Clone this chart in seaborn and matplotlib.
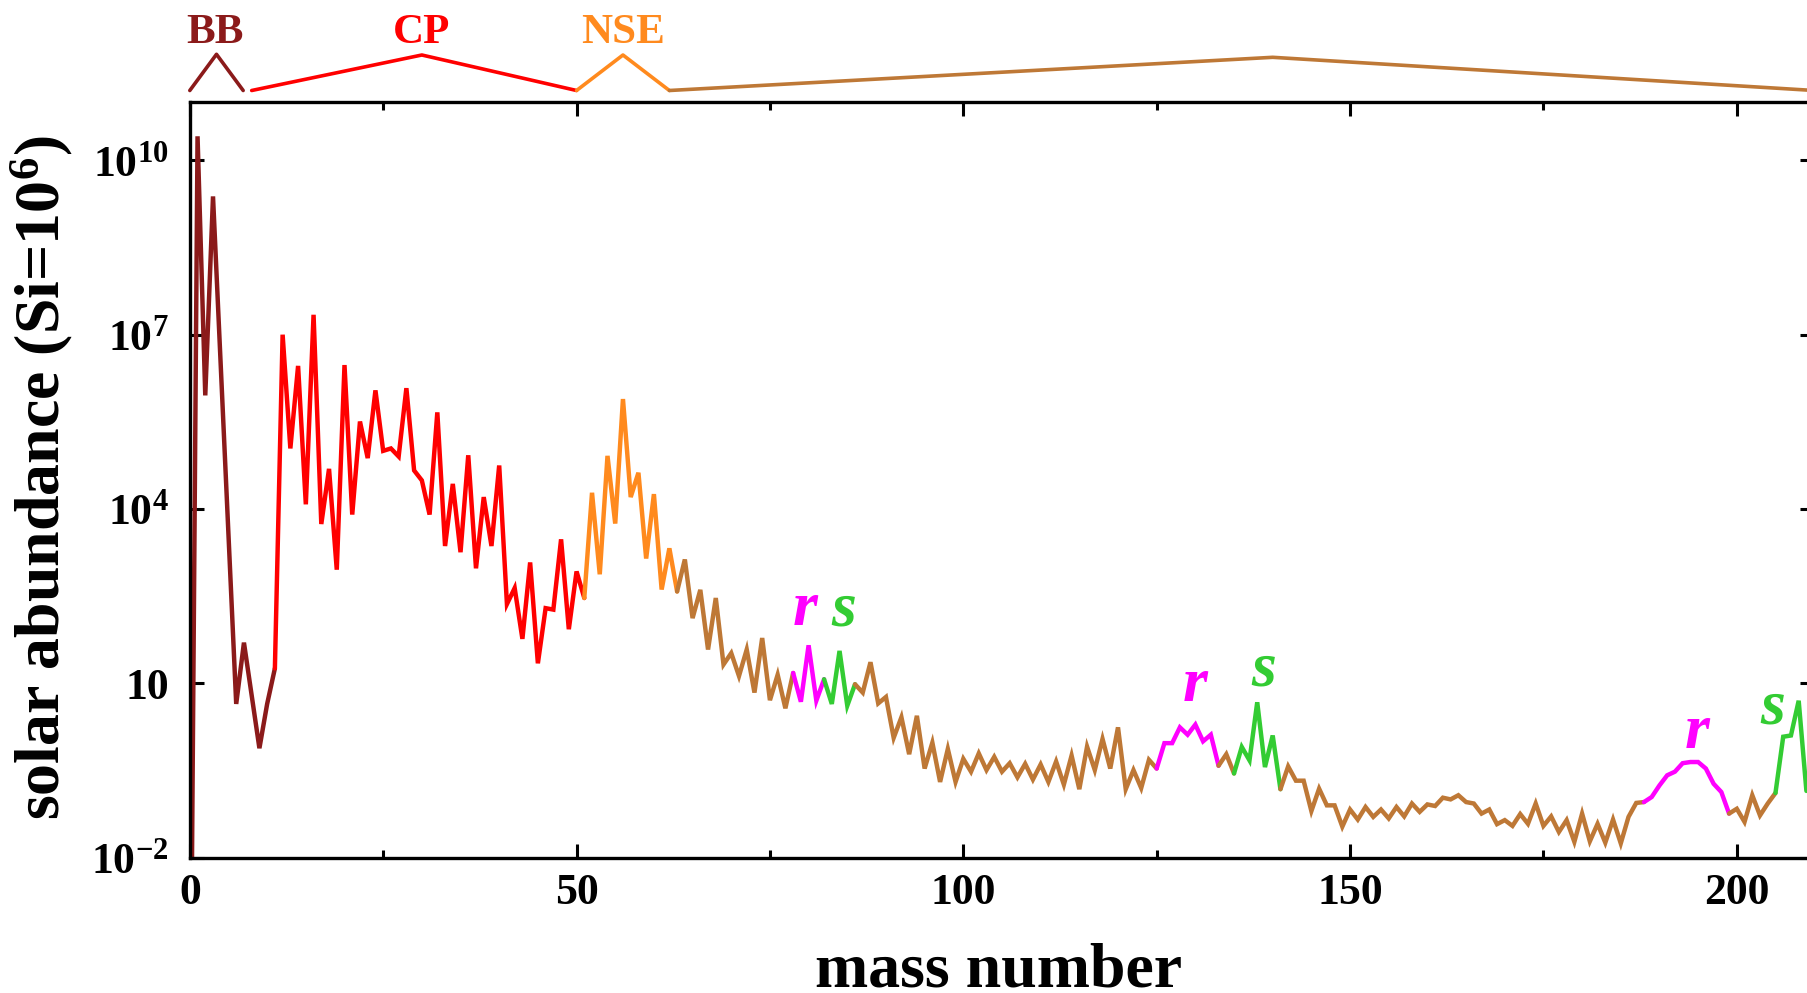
import numpy as np
import pandas as pd
import matplotlib
matplotlib.use("Agg")
import matplotlib.pyplot as plt
from matplotlib.ticker import NullLocator
import seaborn as sns

# ---------------- data ----------------
mass_number = [0, 1, 2, 3, 6, 7, 9, 10, 11] + list(range(12, 210))
abundance = [
    1e-7, 2.6e10, 9e5, 2.4e9, 4.4, 50, 0.76, 4.4, 18,
    # 12-20
    1.0e7, 1.1e5, 2.9e6, 1.2e4, 2.2e7, 5.5e3, 4.9e4, 900, 3.0e6,
    # 21-30
    8.0e3, 3.2e5, 7.5e4, 1.1e6, 1.0e5, 1.1e5, 8.0e4, 1.2e6, 4.6e4, 3.1e4,
    # 31-40
    8.0e3, 4.6e5, 2.3e3, 2.7e4, 1.8e3, 8.4e4, 950, 1.6e4, 2.3e3, 5.6e4,
    # 41-50
    230, 435, 58, 1.2e3, 22, 196, 185, 3.0e3, 85, 840,
    # 51-60
    293, 1.9e4, 750, 8.2e4, 5.6e3, 7.8e5, 1.6e4, 4.2e4, 1.4e3, 1.8e4,
    # 61-70
    410, 2.1e3, 380, 1.35e3, 132, 405, 38, 293, 21, 33,
    # 71-80
    13.3, 38, 6.9, 60, 5.1, 14, 3.7, 15, 4.8, 45,
    # 81-90
    5.0, 11.7, 4.4, 36, 4.1, 9.6, 6.9, 23, 4.5, 5.8,
    # 91-100
    1.15, 2.6, 0.6, 2.75, 0.34, 0.95, 0.2, 0.74, 0.2, 0.5,
    # 101-110
    0.3, 0.62, 0.32, 0.54, 0.3, 0.42, 0.24, 0.41, 0.22, 0.40,
    # 111-120
    0.2, 0.45, 0.18, 0.57, 0.15, 0.81, 0.32, 1.1, 0.34, 1.74,
    # 121-130
    0.15, 0.32, 0.157, 0.48, 0.34, 0.93, 0.93, 1.74, 1.3, 1.94,
    # 131-140
    1.0, 1.3, 0.38, 0.60, 0.28, 0.8, 0.47, 4.7, 0.36, 1.26,
    # 141-150
    0.15, 0.37, 0.21, 0.21, 0.063, 0.153, 0.079, 0.079, 0.034, 0.067,
    # 151-160
    0.045, 0.074, 0.05, 0.067, 0.047, 0.074, 0.051, 0.085, 0.061, 0.082,
    # 161-170
    0.077, 0.107, 0.10, 0.118, 0.09, 0.085, 0.057, 0.067, 0.0375, 0.044,
    # 171-180
    0.035, 0.056, 0.038, 0.085, 0.035, 0.051, 0.0275, 0.044, 0.0186, 0.057,
    # 181-190
    0.019, 0.038, 0.018, 0.045, 0.0175, 0.05, 0.087, 0.09, 0.11, 0.174,
    # 191-200
    0.26, 0.30, 0.42, 0.44, 0.44, 0.34, 0.186, 0.134, 0.057, 0.069,
    # 201-209
    0.041, 0.118, 0.053, 0.085, 0.129, 1.2, 1.26, 5.0, 0.14,
]

# colour segments of the abundance curve (mass-number ranges)
seg_start = [0, 11, 51, 63, 78, 82, 86, 125, 133, 135, 141, 188, 199, 205]
seg_end = [11, 51, 63, 78, 82, 86, 125, 133, 135, 141, 188, 199, 205, 209]
seg_kind = ["BB", "CP", "NSE", "heavy", "r", "s", "heavy", "r", "heavy",
            "s", "heavy", "r", "heavy", "s"]

# nucleosynthesis regions shown in the strip above the plot
region_name = ["BB", "CP", "NSE", None]
region_start = [0, 8, 50, 62]
region_peak = [3.45, 30, 56, 140]
region_end = [6.9, 50, 62, 210]
region_height = [1.02, 1.0, 1.0, 0.935]
region_kind = ["BB", "CP", "NSE", "heavy"]

# r / s process peak labels
proc_label = ["r", "s", "r", "s", "r", "s"]
proc_mass = [79.6, 84.6, 130.0, 138.8, 194.9, 204.6]
proc_base = [100, 100, 5.0, 9.0, 0.78, 2.0]

colors = {
    "BB": "#8b1a1a",
    "CP": "#ff0000",
    "NSE": "#ff8a1e",
    "heavy": "#be7836",
    "r": "#ff00ff",
    "s": "#33cc33",
}

# ---------------- style ----------------
sns.set_theme(style="ticks")
plt.rcParams["font.family"] = ["Liberation Serif", "DejaVu Serif"]
plt.rcParams["font.weight"] = "bold"
plt.rcParams["text.color"] = "black"
plt.rcParams["axes.labelcolor"] = "black"
plt.rcParams["xtick.color"] = "black"
plt.rcParams["ytick.color"] = "black"
plt.rcParams["mathtext.fontset"] = "custom"
plt.rcParams["mathtext.rm"] = "Liberation Serif:bold"
plt.rcParams["mathtext.bf"] = "Liberation Serif:bold"
plt.rcParams["mathtext.it"] = "Liberation Serif:bold:italic"
plt.rcParams["mathtext.default"] = "rm"

df = pd.DataFrame({"A": mass_number, "abund": abundance})

W, H = 1807, 993
fig = plt.figure(figsize=(W / 100, H / 100), dpi=100)

ax_l, ax_b = 189.8 / W, (H - 857.5) / H
ax_w = (7.735 * 210) / W
ax_h = (857.5 - 102.3) / H
ax = fig.add_axes([ax_l, ax_b, ax_w, ax_h])
ax.set_yscale("log")

for s, e, k in zip(seg_start, seg_end, seg_kind):
    sub = df[(df["A"] >= s) & (df["A"] <= e)]
    sns.lineplot(data=sub, x="A", y="abund", ax=ax, color=colors[k],
                 lw=3.2, estimator=None, sort=False,
                 solid_joinstyle="miter")

for lab, m, b in zip(proc_label, proc_mass, proc_base):
    ax.text(m, b, lab, color=colors[lab], fontsize=46, fontweight="bold",
            fontstyle="italic", ha="center", va="baseline",
            family="Liberation Serif")

ax.set_xlim(0, 210)
ax.set_ylim(1e-2, 1e11)
ax.set_xticks([0, 50, 100, 150, 200])
ax.set_xticks([25, 75, 125, 175], minor=True)
ax.set_yticks([1e-2, 1e1, 1e4, 1e7, 1e10],
              labels=[r"$10^{-2}$", "10", r"$10^{4}$", r"$10^{7}$", r"$10^{10}$"])
ax.yaxis.set_minor_locator(NullLocator())
ax.tick_params(which="both", direction="in", top=True, right=True,
               width=2.2, colors="black", labelsize=31.5)
ax.tick_params(which="major", length=10)
ax.tick_params(which="minor", length=6)
ax.tick_params(axis="x", pad=11)
ax.tick_params(axis="y", pad=15)
for sp in ax.spines.values():
    sp.set_linewidth(2.4)
    sp.set_color("black")

ax.set_xlabel("mass number", fontsize=46, fontweight="bold", color="black")
ax.set_ylabel(r"solar abundance (Si=10$^{6}$)", fontsize=46,
              fontweight="bold", color="black")
ax.xaxis.set_label_coords(0.4976, -0.113)
ax.yaxis.set_label_coords(-0.0704, 0.5025)

# ---------------- top strip ----------------
ax_top = fig.add_axes([ax_l, (H - 90.5) / H, ax_w, 35.5 / H])
ax_top.set_xlim(0, 210)
ax_top.set_ylim(0, 1)
ax_top.axis("off")
for name, s, p, e, h, k in zip(region_name, region_start, region_peak,
                               region_end, region_height, region_kind):
    tri = pd.DataFrame({"A": [s, p, e], "h": [0, h, 0]})
    sns.lineplot(data=tri, x="A", y="h", ax=ax_top, color=colors[k], lw=2.6,
                 estimator=None, sort=False, clip_on=False)
    if name:
        ax_top.text(p - (0.15 if name == "BB" else 0), 1.3465, name,
                    color=colors[k], fontsize=31, fontweight="bold",
                    ha="center", va="baseline", clip_on=False)
ax_top.set_xlabel("")
ax_top.set_ylabel("")

fig.savefig("out.png", dpi=100)
